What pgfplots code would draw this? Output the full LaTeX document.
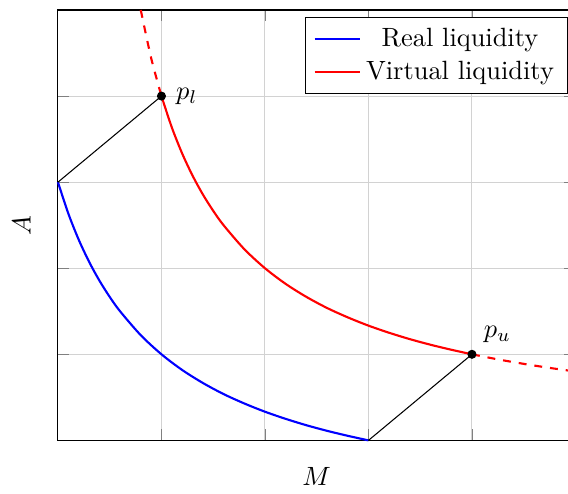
\documentclass[border=0pt]{standalone}
\usepackage{pgfplots}
\pgfplotsset{compat=1.18}
\begin{document}
\begin{tikzpicture}
\begin{axis}[
  x=39.2pt, y=32.6pt,
  xmin=0, xmax=5, ymin=0, ymax=5,
  xtick={1,2,3,4}, ytick={1,2,3,4},
  xticklabels={}, yticklabels={},
  grid=major,
  grid style={gray!35},
  xlabel={$M$}, ylabel={$A$},
  clip=false,
  legend style={at={(0.985,0.984)}, anchor=north east},
  legend cell align=center,
]
% real liquidity: (x+1)(y+1)=4 between the price bounds
\addplot[blue, thick, smooth] coordinates {
  (0,3) (0.1,2.636) (0.2,2.333) (0.3,2.077) (0.4,1.857) (0.5,1.667)
  (0.6,1.5) (0.8,1.222) (1.0,1) (1.2,0.818) (1.4,0.667) (1.6,0.538)
  (1.8,0.429) (2.0,0.333) (2.2,0.25) (2.4,0.176) (2.6,0.111) (2.8,0.053) (3.0,0)
};
\addlegendentry{Real liquidity}
% virtual liquidity: xy=4, solid inside the range
\addplot[red, thick, smooth] coordinates {
  (1,4) (1.1,3.636) (1.2,3.333) (1.3,3.077) (1.4,2.857) (1.5,2.667)
  (1.6,2.5) (1.8,2.222) (2.0,2) (2.2,1.818) (2.4,1.667) (2.6,1.538)
  (2.8,1.429) (3.0,1.333) (3.2,1.25) (3.4,1.176) (3.6,1.111) (3.8,1.053) (4.0,1)
};
\addlegendentry{Virtual liquidity}
% virtual liquidity outside the range
\addplot[red, thick, dashed, smooth, forget plot] coordinates {
  (0.8,5) (0.9,4.444) (1.0,4)
};
\addplot[red, thick, dashed, smooth, forget plot] coordinates {
  (4,1) (4.25,0.941) (4.5,0.889) (4.75,0.842) (5,0.8)
};
% shifts between the two curves
\addplot[black, forget plot] coordinates {(0,3) (1,4)};
\addplot[black, forget plot] coordinates {(3,0) (4,1)};
% price bounds
\addplot[only marks, mark=*, mark size=1.5pt, black, forget plot,
  nodes near coords, point meta=explicit symbolic,
  every node near coord/.style={anchor=west, xshift=2pt}]
  coordinates {(1,4) [$p_l$]};
\addplot[only marks, mark=*, mark size=1.5pt, black, forget plot,
  nodes near coords, point meta=explicit symbolic,
  every node near coord/.style={anchor=south west, xshift=1pt, yshift=1pt}]
  coordinates {(4,1) [$p_u$]};
\coordinate (BL) at (axis cs:-0.56,-0.616);
\coordinate (TR) at (axis cs:4.928,5.116);
\end{axis}
\pgfresetboundingbox
\useasboundingbox (BL) rectangle (TR);
\end{tikzpicture}
\end{document}
